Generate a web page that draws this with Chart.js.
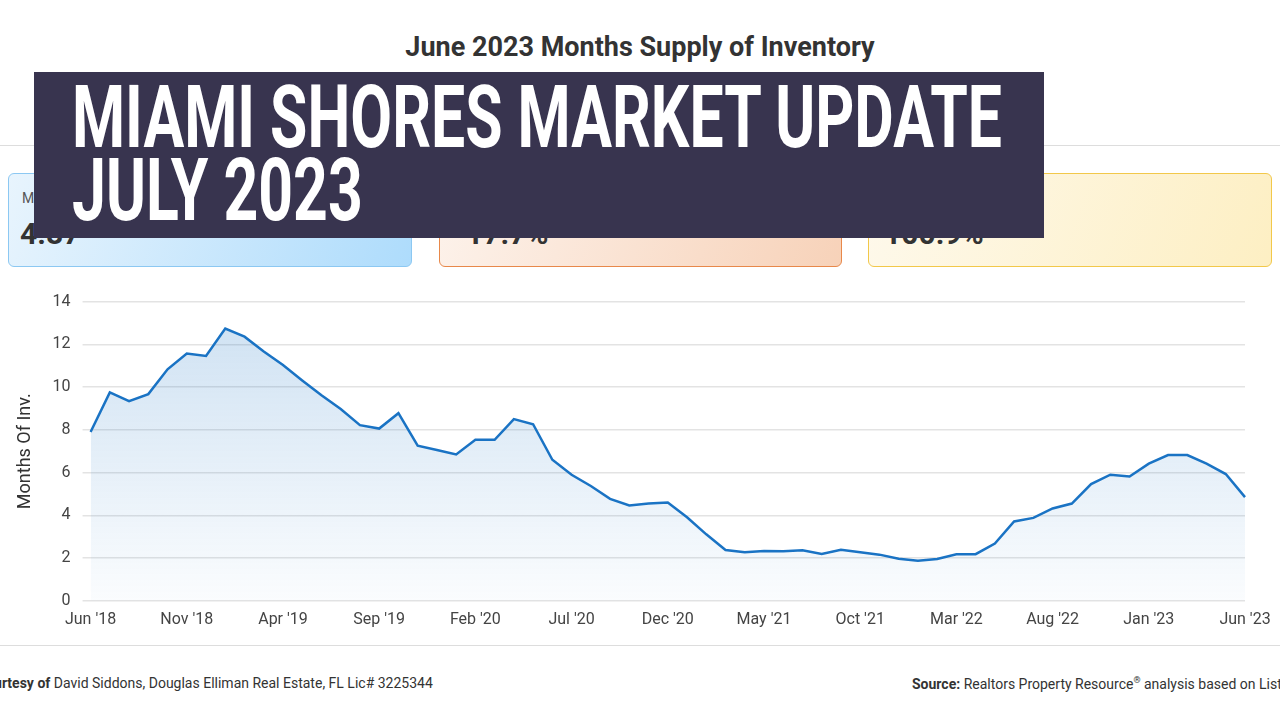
<!DOCTYPE html>
<html><head><meta charset="utf-8">
<script src="https://cdn.jsdelivr.net/npm/chart.js@4"></script>
<style>
body{margin:0;width:1280px;height:720px;overflow:hidden;background:#fff;font-family:Roboto,sans-serif;position:relative}
.t{position:absolute;white-space:nowrap}
.card{position:absolute;top:173px;height:94px;border-radius:6px;box-sizing:border-box}
#banner{position:absolute;left:34px;top:72px;width:1010px;height:166px;background:#38344f}
.bl{position:absolute;left:72px;color:#fff;font-family:Roboto;font-weight:bold;font-size:88px;line-height:88px;transform-origin:0 0;white-space:nowrap}
#wrap{position:absolute;left:0;top:280px;width:1280px;height:352px}
</style></head><body>
<div class="t" style="left:0;width:1280px;text-align:center;top:31px;font-size:27px;font-weight:bold;color:#333">June 2023 Months Supply of Inventory</div>
<div style="position:absolute;left:0;top:145px;width:1280px;height:1px;background:#ddd"></div>
<div class="card" style="left:8px;width:404px;border:1px solid #8cc8f2;background:linear-gradient(110deg,#e8f4fd,#aedcfc)"></div>
<div class="card" style="left:439px;width:403px;border:1px solid #e8884a;background:linear-gradient(110deg,#fdf3ec,#f7d2b9)"></div>
<div class="card" style="left:868px;width:404px;border:1px solid #f2c84a;background:linear-gradient(110deg,#fef9ec,#fdefc3)"></div>
<div class="t" style="left:22px;top:190px;font-size:14px;color:#555">Months Supply</div>
<div class="t" style="left:20px;top:216px;font-size:30px;font-weight:bold;color:#333">4.87</div>
<div class="t" style="left:466px;top:216px;font-size:30px;font-weight:bold;color:#333">17.7%</div>
<div class="t" style="left:884px;top:216px;font-size:30px;font-weight:bold;color:#333">100.9%</div>
<div id="banner"></div>
<div class="bl" id="b1" style="top:73px">MIAMI SHORES MARKET UPDATE</div>
<div class="bl" id="b2" style="top:146px">JULY 2023</div>
<div id="wrap"><canvas id="c"></canvas></div>
<div style="position:absolute;left:0;top:645px;width:1280px;height:1px;background:#ddd"></div>
<div class="t" style="left:-23px;top:675px;font-size:14px;color:#333"><b>Courtesy of</b> David Siddons, Douglas Elliman Real Estate, FL Lic# 3225344</div>
<div class="t" style="left:912px;top:675px;font-size:14px;color:#333"><b>Source:</b> Realtors Property Resource<sup style="font-size:9px">®</sup> analysis based on Listings</div>
<script>
const b1=document.getElementById('b1'),b2=document.getElementById('b2');
const s=930/b1.getBoundingClientRect().width;
b1.style.transform='scaleX('+s+')';b2.style.transform='scaleX('+s+')';
const months=["Jan","Feb","Mar","Apr","May","Jun","Jul","Aug","Sep","Oct","Nov","Dec"];
const labels=[];
for(let i=0;i<61;i++){const m=(5+i)%12,y=18+Math.floor((5+i)/12);labels.push(months[m]+" '"+y);}
const values=[7.9,9.75,9.34,9.67,10.83,11.57,11.46,12.74,12.36,11.66,11.03,10.31,9.62,8.97,8.22,8.06,8.78,7.26,7.06,6.85,7.53,7.53,8.5,8.26,6.6,5.9,5.37,4.77,4.46,4.55,
4.6,3.91,3.11,2.38,2.27,2.33,2.32,2.36,2.19,2.39,2.27,2.16,1.97,1.88,1.96,2.18,2.18,2.68,3.71,3.88,4.32,4.55,5.46,5.9,5.82,6.42,6.82,6.82,6.42,5.93,4.85];
new Chart(document.getElementById('c'),{type:'line',
data:{labels,datasets:[{data:values,borderColor:'#1a73c4',borderWidth:2.5,pointRadius:0,tension:0,fill:true,
backgroundColor:(ctx)=>{const a=ctx.chart.chartArea;if(!a)return 'rgba(26,115,196,0.2)';const g=ctx.chart.ctx.createLinearGradient(0,a.top,0,a.bottom);g.addColorStop(0,'rgba(26,115,196,0.22)');g.addColorStop(1,'rgba(26,115,196,0.02)');return g;}}]},
options:{responsive:true,maintainAspectRatio:false,animation:false,
layout:{padding:{left:11,right:35,top:12}},
plugins:{legend:{display:false},tooltip:{enabled:false}},
scales:{x:{grid:{display:false},border:{display:false},ticks:{autoSkip:false,maxRotation:0,padding:2,color:'#444',font:{size:16,family:'Roboto'},callback:(v,i)=>i%5===0?labels[i]:''}},
y:{min:0,max:14,ticks:{stepSize:2,color:'#444',padding:12,font:{size:16,family:'Roboto'}},grid:{color:'#e3e3e3',lineWidth:1.5},border:{display:false},
title:{display:true,text:'Months Of Inv.',color:'#333',font:{size:18,family:'Roboto'}}}}}});
</script>
</body></html>
